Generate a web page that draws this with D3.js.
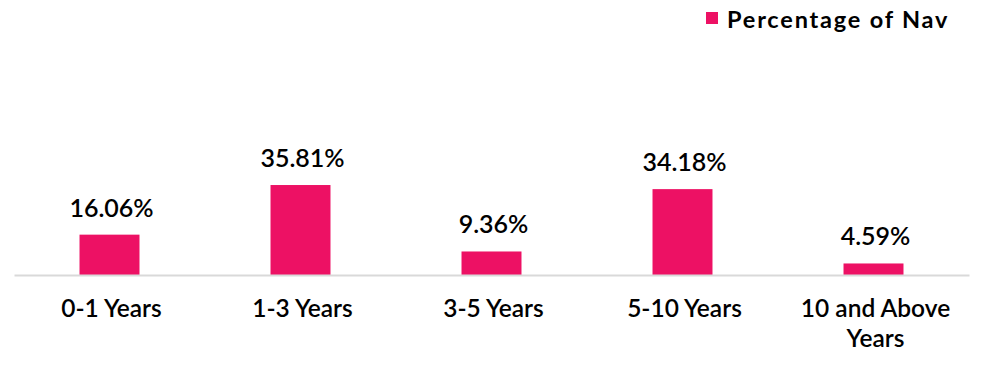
<!DOCTYPE html>
<html>
<head>
<meta charset="utf-8">
<script src="https://cdn.jsdelivr.net/npm/d3@7"></script>
<style>
  body { margin: 0; background: #fff; }
  text { font-family: Lato, "Open Sans", sans-serif; fill: #000; }
</style>
</head>
<body>
<script>
const categories = ['0-1 Years', '1-3 Years', '3-5 Years', '5-10 Years', '10 and Above Years'];
const values = [16.06, 35.81, 9.36, 34.18, 4.59];
const seriesName = 'Percentage of Nav';

const width = 984, height = 378;
const barColor = '#ed1164';

const svg = d3.select('body').append('svg')
  .attr('width', width)
  .attr('height', height);

const x = d3.scaleBand()
  .domain(categories)
  .range([14, 969])
  .paddingInner(0.686)
  .paddingOuter(0.343);

const y = d3.scaleLinear()
  .domain([0, 40])
  .range([275, 174.5]);

// bars
svg.selectAll('rect.bar')
  .data(values).enter()
  .append('rect')
  .attr('class', 'bar')
  .attr('x', (d, i) => x(categories[i]))
  .attr('y', d => y(d))
  .attr('width', x.bandwidth())
  .attr('height', d => y(0) - y(d))
  .attr('fill', barColor);

// axis line
const axis = svg.append('g')
  .attr('transform', `translate(0,${y(0)})`)
  .call(d3.axisBottom(x).tickSize(0).tickFormat(''));
axis.select('.domain').attr('stroke', '#d9d9d9').attr('stroke-width', 2);

// value labels
svg.selectAll('text.val')
  .data(values).enter()
  .append('text')
  .attr('class', 'val')
  .attr('x', (d, i) => x(categories[i]) + x.bandwidth() / 2 + 2)
  .attr('y', d => y(d) - 18)
  .attr('text-anchor', 'middle')
  .style('font-size', '25px')
  .style('font-weight', 600)
  .text(d => d.toFixed(2) + '%');

// category labels (wrap long ones)
const catLabels = svg.selectAll('text.cat')
  .data(categories).enter()
  .append('text')
  .attr('class', 'cat')
  .attr('x', d => x(d) + x.bandwidth() / 2)
  .attr('y', 317)
  .attr('text-anchor', 'middle')
  .style('font-size', '24.5px')
  .style('font-weight', 600);

catLabels.each(function(d) {
  const lines = d === '10 and Above Years' ? ['10 and Above', 'Years'] : [d];
  const t = d3.select(this);
  lines.forEach((l, k) => {
    t.append('tspan')
      .attr('x', x(d) + x.bandwidth() / 2 + 2)
      .attr('dy', k === 0 ? 0 : 30)
      .text(l);
  });
});

// legend
const legend = svg.append('g');
legend.append('rect')
  .attr('x', 706).attr('y', 12)
  .attr('width', 12).attr('height', 12)
  .attr('fill', barColor);
legend.append('text')
  .attr('x', 727).attr('y', 28)
  .style('font-size', '23.5px')
  .style('font-weight', 700)
  .style('letter-spacing', '1.8px')
  .text(seriesName);
</script>
</body>
</html>
